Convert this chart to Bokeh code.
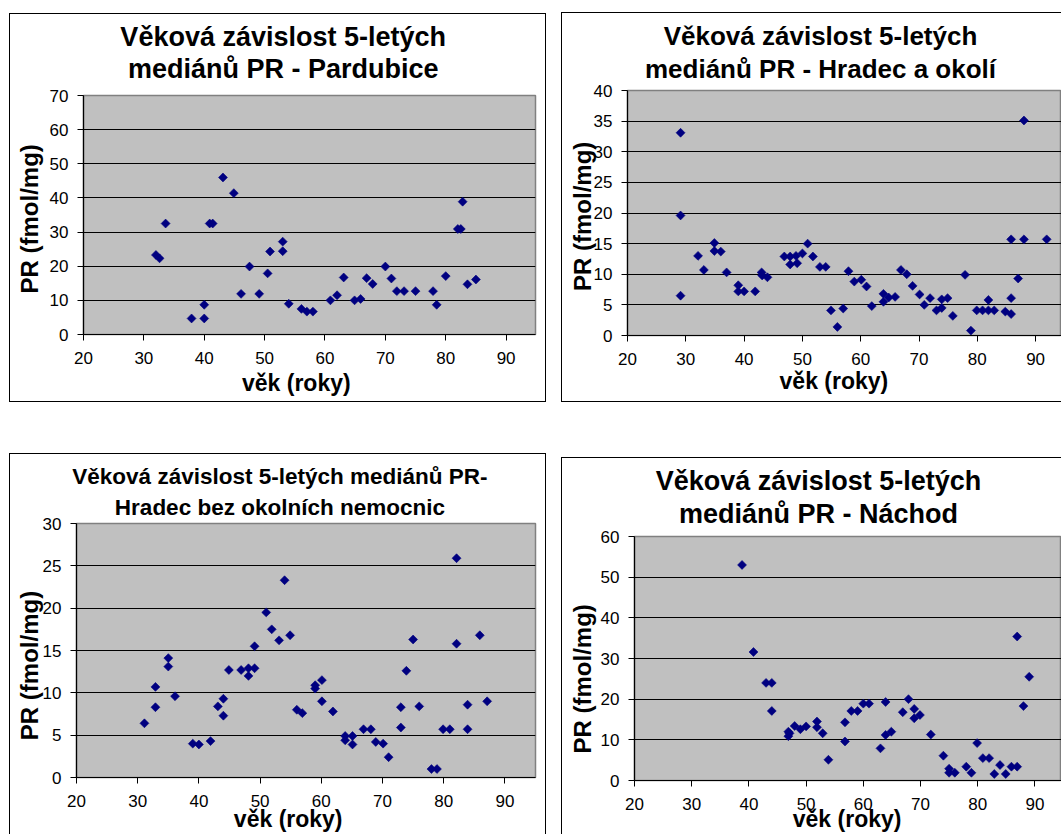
import math

from bokeh.embed import file_html
from bokeh.layouts import column, row
from bokeh.models import ColumnDataSource, FixedTicker, Label, Range1d
from bokeh.plotting import figure
from bokeh.resources import INLINE

# ---------------------------------------------------------------------------
# Data: age (years) vs. 5-year median PR (fmol/mg)
# ---------------------------------------------------------------------------
pardubice_age = [32.0, 32.6, 33.6, 37.9, 40.0, 40.0, 40.9, 41.4, 43.1, 44.9,
                 46.1, 47.5, 49.1, 50.5, 50.9, 53.0, 53.0, 54.0, 56.1, 57.0,
                 58.0, 60.9, 62.0, 63.1, 64.9, 65.9, 66.9, 67.9, 70.0, 71.0,
                 71.9, 73.1, 75.0, 77.9, 78.5, 80.0, 82.0, 82.5, 82.8, 83.6,
                 85.0]
pardubice_pr = [23.3, 22.3, 32.5, 4.7, 4.7, 8.7, 32.5, 32.5, 46.0, 41.4,
                11.9, 19.9, 11.9, 17.9, 24.3, 27.2, 24.4, 9.0, 7.5, 6.7,
                6.7, 10.0, 11.5, 16.7, 10.0, 10.4, 16.5, 14.8, 19.9, 16.4,
                12.7, 12.7, 12.7, 12.7, 8.7, 17.1, 30.9, 30.9, 38.9, 14.7,
                16.1]

hradec_okoli_age = [29.1, 29.1, 29.1, 32.1, 33.1, 34.9, 34.9, 36.0, 37.0, 39.0,
                    39.0, 40.0, 41.9, 43.0, 43.1, 44.0, 46.9, 47.9, 47.9, 48.9,
                    49.1, 50.0, 50.9, 51.8, 53.0, 54.0, 54.9, 56.0, 57.0, 57.9,
                    58.9, 60.1, 61.0, 61.9, 63.9, 63.9, 64.8, 65.9, 66.9, 67.9,
                    68.9, 70.1, 70.9, 71.9, 73.0, 73.9, 73.9, 74.9, 75.8, 77.9,
                    78.9, 79.9, 80.9, 81.9, 81.9, 82.9, 84.8, 85.8, 85.8, 85.8,
                    87.0, 88.0, 88.0, 91.9]
hradec_okoli_pr = [33.1, 19.6, 6.5, 13.0, 10.7, 15.1, 13.8, 13.7, 10.3, 8.2,
                   7.2, 7.2, 7.2, 10.3, 9.8, 9.5, 12.9, 12.9, 11.6, 13.0,
                   11.8, 13.4, 15.0, 12.9, 11.2, 11.2, 4.1, 1.4, 4.4, 10.5,
                   8.8, 9.1, 8.0, 4.8, 6.8, 5.5, 6.2, 6.3, 10.7, 10.0,
                   8.1, 6.7, 5.0, 6.1, 4.1, 4.5, 5.9, 6.1, 3.2, 9.9,
                   0.8, 4.1, 4.1, 5.8, 4.1, 4.1, 3.9, 15.7, 6.1, 3.5,
                   9.3, 35.1, 15.7, 15.7]

hradec_bez_age = [31.1, 32.9, 32.9, 35.0, 35.0, 36.1, 39.0, 40.0, 41.9, 43.1,
                  44.0, 44.0, 44.9, 46.9, 48.1, 48.1, 49.1, 49.1, 51.0, 51.9,
                  53.1, 54.0, 54.9, 56.0, 56.9, 59.0, 59.0, 60.1, 60.1, 61.9,
                  63.9, 63.9, 65.1, 65.1, 66.9, 68.1, 68.9, 70.1, 71.0, 73.0,
                  73.0, 73.9, 75.0, 76.0, 78.0, 78.9, 79.9, 81.0, 82.1, 82.1,
                  83.9, 83.9, 85.9, 87.1]
hradec_bez_pr = [6.4, 10.7, 8.3, 14.1, 13.1, 9.6, 4.0, 3.9, 4.3, 8.4,
                 9.3, 7.3, 12.7, 12.7, 12.0, 12.9, 12.9, 15.5, 19.5, 17.5,
                 16.2, 23.3, 16.8, 8.0, 7.6, 10.5, 10.9, 11.5, 9.0, 7.8,
                 4.4, 4.9, 4.9, 3.9, 5.7, 5.7, 4.2, 4.0, 2.4, 8.3,
                 5.9, 12.6, 16.3, 8.4, 1.0, 1.0, 5.7, 5.7, 15.8, 25.9,
                 8.6, 5.7, 16.8, 9.0]

nachod_age = [38.8, 40.8, 43.0, 44.0, 44.0, 46.9, 46.9, 47.1, 48.0, 49.0,
              50.0, 51.9, 51.9, 52.9, 53.9, 56.8, 56.8, 57.9, 59.0, 60.0,
              61.0, 63.0, 63.9, 63.9, 64.9, 66.9, 67.9, 68.9, 68.9, 69.9,
              71.8, 74.0, 75.0, 75.0, 76.0, 78.0, 78.9, 79.9, 80.9, 82.0,
              82.9, 83.9, 84.9, 85.9, 86.9, 86.9, 88.0, 89.0]
nachod_pr = [53.0, 31.6, 24.0, 24.0, 17.1, 12.0, 10.9, 11.6, 13.4, 12.6,
             13.3, 14.5, 13.1, 11.6, 5.1, 14.3, 9.6, 17.1, 17.1, 18.9,
             18.9, 7.9, 19.3, 11.2, 12.0, 16.8, 20.0, 17.6, 15.3, 16.1,
             11.3, 6.1, 2.9, 1.9, 1.9, 3.4, 1.9, 9.2, 5.5, 5.5,
             1.6, 3.8, 1.6, 3.4, 3.4, 35.4, 18.3, 25.5]

# Axis ticks
x_ticks = [20, 30, 40, 50, 60, 70, 80, 90]
y_ticks_70 = [0, 10, 20, 30, 40, 50, 60, 70]
y_ticks_40 = [0, 5, 10, 15, 20, 25, 30, 35, 40]
y_ticks_30 = [0, 5, 10, 15, 20, 25, 30]
y_ticks_60 = [0, 10, 20, 30, 40, 50, 60]

# Titles and axis titles
titles = [
    ("Věková závislost 5-letých", "mediánů PR - Pardubice"),
    ("Věková závislost 5-letých", "mediánů PR - Hradec a okolí"),
    ("Věková závislost 5-letých mediánů PR-", "Hradec bez okolních nemocnic"),
    ("Věková závislost 5-letých", "mediánů PR - Náchod"),
]
x_title = "věk (roky)"
y_title = "PR (fmol/mg)"

FONT = "Liberation Sans"
MARKER = "#000080"


def unaligned(fig):
    """Keep each canvas's frame where its own borders put it."""
    try:
        fig.frame_align = False
    except AttributeError:
        pass
    return fig


def make_chart(ages, values, y_ticks, geom):
    """Excel-style scatter chart: grey plot area, black horizontal gridlines."""
    W, H = geom["size"]
    L, R, T, B = geom["borders"]
    p = figure(
        width=W, height=H,
        min_border_left=L, min_border_right=R,
        min_border_top=T, min_border_bottom=B,
        x_range=Range1d(20, geom["x_end"]),
        y_range=Range1d(y_ticks[0], y_ticks[-1]),
        output_backend="svg", toolbar_location=None,
        background_fill_color="#c0c0c0",
        border_fill_alpha=0,
        outline_line_color="#808080", outline_line_width=1.5,
        margin=(geom["top"], 0, 0, geom["left"]),
        styles={"box-shadow": geom["edges"]},
    )
    unaligned(p)

    src = ColumnDataSource(dict(age=ages, pr=values))
    p.scatter("age", "pr", source=src, marker="square", angle=math.pi / 4,
              size=6.3, fill_color=MARKER, line_color=MARKER, line_width=0.6)

    for ax, ticks in ((p.xaxis[0], x_ticks), (p.yaxis[0], y_ticks)):
        ax.ticker = FixedTicker(ticks=ticks)
        ax.minor_tick_line_color = None
        ax.major_tick_in = 0
        ax.major_tick_out = 6
        ax.major_tick_line_color = "black"
        ax.axis_line_color = "black"
        ax.axis_line_width = 1.2
        ax.major_label_text_font = FONT
        ax.major_label_text_font_size = "17px"
        ax.major_label_text_color = "black"
    p.yaxis.major_label_standoff = 9
    p.xaxis.major_label_standoff = 11

    p.xgrid.grid_line_color = None
    p.ygrid.ticker = FixedTicker(ticks=y_ticks[1:-1])
    p.ygrid.grid_line_color = "black"
    p.ygrid.grid_line_width = 1
    return p


def make_texts(title_lines, geom):
    """Transparent sheet laid over the chart that carries its titles."""
    W, H = geom["size"]
    t = figure(
        width=W, height=H, min_border=0,
        min_border_left=0, min_border_right=0,
        min_border_top=0, min_border_bottom=0,
        x_range=Range1d(0, W), y_range=Range1d(0, H),
        x_axis_location=None, y_axis_location=None,
        output_backend="svg", toolbar_location=None,
        background_fill_alpha=0, border_fill_alpha=0,
        outline_line_color=None,
        margin=(-H, 0, 0, geom["left"]),
    )
    unaligned(t)
    t.xgrid.visible = False
    t.ygrid.visible = False

    def put(text, cx, cy, size_px, angle=0.0):
        # the label is anchored on the middle of its line box; move it so
        # that the alphabetic baseline lands on cy (or cx when rotated)
        shift = 0.3465 * size_px
        if angle:
            cx -= shift
        else:
            cy -= shift
        t.add_layout(Label(
            x=cx, y=H - cy, x_units="screen", y_units="screen",
            text=text, angle=angle, text_align="center",
            text_baseline="alphabetic", text_font=FONT,
            text_font_style="bold", text_font_size=f"{size_px}px",
            text_color="black",
        ))

    tcx, (b1, b2) = geom["title"]
    put(title_lines[0], tcx, b1, geom["title_size"])
    put(title_lines[1], tcx, b2, geom["title_size"])
    xcx, xcy = geom["xlabel"]
    put(x_title, xcx, xcy, 23)
    ycx, ycy = geom["ylabel"]
    put(y_title, ycx, ycy, 24, angle=math.pi / 2)
    return t


EDGE_L = "inset 1px 0 0 0 black"
EDGE_T = "inset 0 1px 0 0 black"
EDGE_R = "inset -1px 0 0 0 black"
EDGE_B = "inset 0 -1px 0 0 black"

geoms = [
    dict(size=(537, 389), borders=(74, 11, 82, 68), x_end=94.87,
         top=13, left=9, edges=", ".join([EDGE_L, EDGE_T, EDGE_R, EDGE_B]),
         title=(273.7, (33, 64.5)), title_size=27,
         xlabel=(286.8, 377), ylabel=(28.2, 205.3)),
    dict(size=(500, 390), borders=(66, 0, 78, 67), x_end=94.44,
         top=12, left=15, edges=", ".join([EDGE_L, EDGE_T, EDGE_B]),
         title=(259, (33, 65.5)), title_size=26,
         xlabel=(272.4, 376), ylabel=(29.3, 203.8)),
    dict(size=(537, 381), borders=(67, 11, 70, 57), x_end=95.0,
         top=51, left=9, edges=", ".join([EDGE_L, EDGE_T, EDGE_R]),
         title=(270.4, (30.3, 61.3)), title_size=22.5,
         xlabel=(278.7, 373.7), ylabel=(28.2, 212)),
    dict(size=(500, 377), borders=(73, 0, 79, 54), x_end=94.65,
         top=55, left=15, edges=", ".join([EDGE_L, EDGE_T]),
         title=(257, (33, 65.7)), title_size=27,
         xlabel=(285.6, 369.7), ylabel=(29.3, 221.3)),
]

series = [
    (pardubice_age, pardubice_pr, y_ticks_70),
    (hradec_okoli_age, hradec_okoli_pr, y_ticks_40),
    (hradec_bez_age, hradec_bez_pr, y_ticks_30),
    (nachod_age, nachod_pr, y_ticks_60),
]

panels = []
for (ages, values, yt), title_lines, geom in zip(series, titles, geoms):
    chart = make_chart(ages, values, yt, geom)
    sheet = make_texts(title_lines, geom)
    panels.append(column(chart, sheet))

layout = column(row(panels[0], panels[1]), row(panels[2], panels[3]))

with open("out.html", "w") as f:
    f.write(file_html(layout, INLINE))
